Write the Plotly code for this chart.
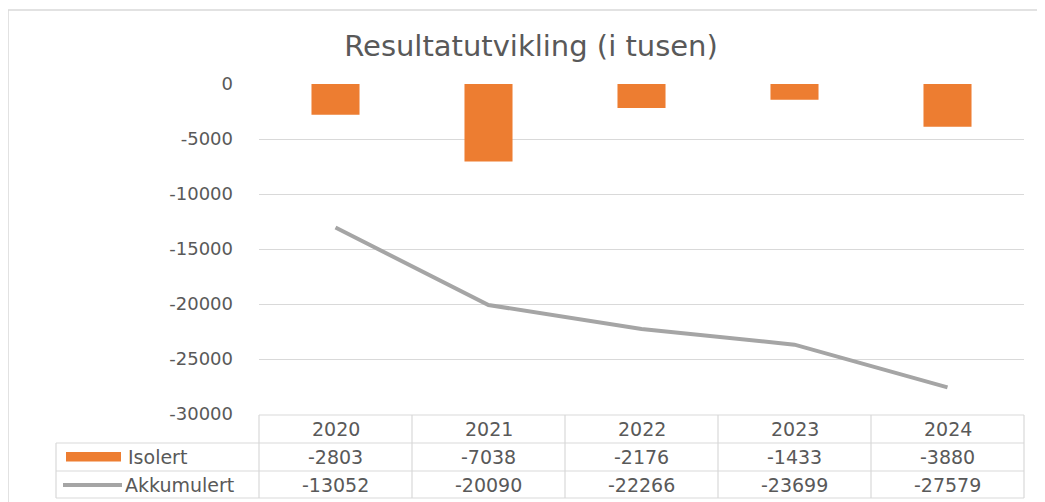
import plotly.graph_objects as go

years = ["2020", "2021", "2022", "2023", "2024"]
isolert = [-2803, -7038, -2176, -1433, -3880]
akkumulert = [-13052, -20090, -22266, -23699, -27579]
tick_values = [0, -5000, -10000, -15000, -20000, -25000, -30000]
tick_labels = ["0", "-5000", "-10000", "-15000", "-20000", "-25000", "-30000"]
series_names = ["Isolert", "Akkumulert"]
title = "Resultatutvikling (i tusen)"

# page has an 8px body margin; figure placed at (8, 8)
OFF = 8
W, H = 1045 - OFF, 502 - OFF
ORANGE = "#ED7D31"
GREY = "#A5A5A5"
TXT = "#595959"
GRID = "#D9D9D9"
FONT = "DejaVu Sans"
FS = 18
FST = 19

def px(x):
    return (x - OFF) / W

def py(y):
    return 1 - (y - OFF) / H

fig = go.Figure()
fig.add_trace(go.Bar(x=years, y=isolert, name=series_names[0], marker=dict(color=ORANGE, line=dict(width=0))))
fig.add_trace(go.Scatter(x=years, y=akkumulert, name=series_names[1], mode="lines",
                         line=dict(color=GREY, width=4)))

x0, x1 = 259, 1024
ytop, ybot = 84, 414

fig.update_layout(
    width=W, height=H,
    margin=dict(l=0, r=0, t=0, b=0, autoexpand=False),
    paper_bgcolor="white", plot_bgcolor="white",
    showlegend=False,
    bargap=0.686,
    font=dict(family=FONT, color=TXT, size=FS),
    title=dict(text=title, x=px(531), xanchor="center", y=py(46), yanchor="middle",
               font=dict(family=FONT, size=29, color=TXT), automargin=False),
    xaxis=dict(domain=[px(x0), px(x1)], showticklabels=False, showgrid=False, automargin=False,
               zeroline=False, showline=False, type="category", range=[-0.5, len(years) - 0.5]),
    yaxis=dict(domain=[py(ybot), py(ytop)], range=[-30000, 0], tickvals=tick_values, automargin=False,
               ticktext=tick_labels, showgrid=True, gridcolor=GRID, gridwidth=1,
               zeroline=False, showline=False, ticks="", ticklabelstandoff=25,
               tickfont=dict(size=FS, color=TXT)),
)

shapes = []
# outer chart border
shapes.append(dict(type="rect", xref="paper", yref="paper", x0=px(8), x1=px(1080), y0=py(540), y1=py(10),
                   line=dict(color=GRID, width=1.5), fillcolor="rgba(0,0,0,0)", layer="below"))
# table lines
rows = [415, 443, 471, 498]
cols = [259, 412, 565, 718, 871, 1024]
lc = dict(color=GRID, width=1.2)
shapes.append(dict(type="line", xref="paper", yref="paper", x0=px(259), x1=px(1024), y0=py(415), y1=py(415), line=lc))
for r in rows[1:]:
    shapes.append(dict(type="line", xref="paper", yref="paper", x0=px(56), x1=px(1024), y0=py(r), y1=py(r), line=lc))
for c in cols:
    shapes.append(dict(type="line", xref="paper", yref="paper", x0=px(c), x1=px(c), y0=py(415), y1=py(498), line=lc))
shapes.append(dict(type="line", xref="paper", yref="paper", x0=px(56), x1=px(56), y0=py(443), y1=py(498), line=lc))
# legend keys
shapes.append(dict(type="rect", xref="paper", yref="paper", x0=px(66), x1=px(121), y0=py(461.5), y1=py(452),
                   fillcolor=ORANGE, line=dict(width=0)))
shapes.append(dict(type="line", xref="paper", yref="paper", x0=px(63), x1=px(122), y0=py(485), y1=py(485),
                   line=dict(color=GREY, width=4)))

annotations = []
row_centers = [429, 457, 485]
for i, yr in enumerate(years):
    for rc, txt in zip(row_centers, [yr, str(isolert[i]), str(akkumulert[i])]):
        annotations.append(dict(x=i, xref="x", y=py(rc), yref="paper", text=txt, showarrow=False,
                                xanchor="center", yanchor="middle", font=dict(size=FST, color=TXT)))
annotations.append(dict(x=px(126), xref="paper", y=py(row_centers[1]), yref="paper", text=series_names[0],
                        showarrow=False, xanchor="left", yanchor="middle", font=dict(size=FST, color=TXT)))
annotations.append(dict(x=px(123), xref="paper", y=py(row_centers[2]), yref="paper", text=series_names[1],
                        showarrow=False, xanchor="left", yanchor="middle", font=dict(size=FST, color=TXT)))

fig.update_layout(shapes=shapes, annotations=annotations)
fig.write_html("out.html")
